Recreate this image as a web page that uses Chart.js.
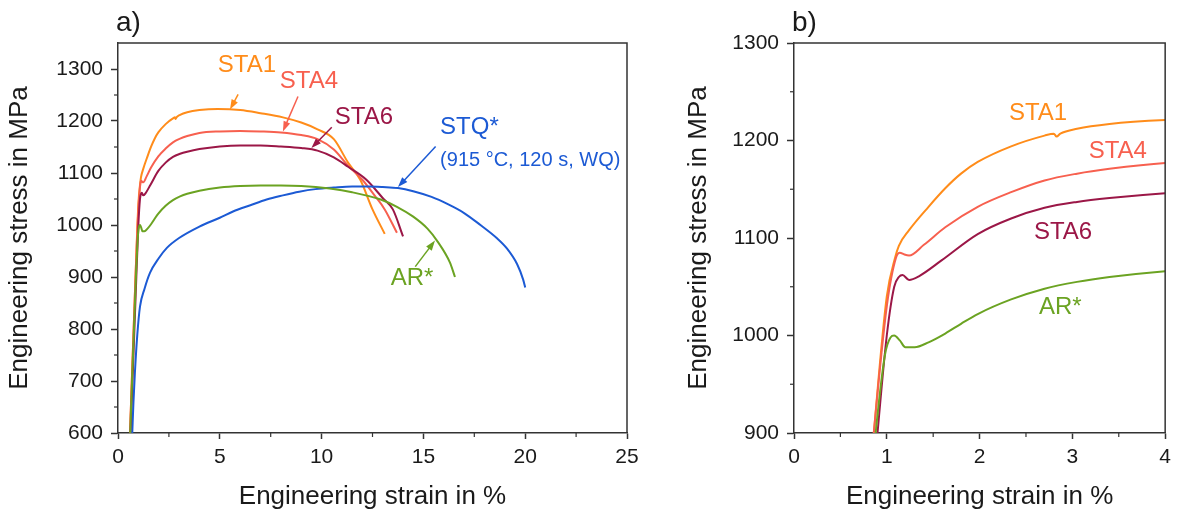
<!DOCTYPE html>
<html>
<head>
<meta charset="utf-8">
<script src="https://cdn.jsdelivr.net/npm/chart.js@4.4.0/dist/chart.umd.min.js"></script>
<style>
  html, body { margin: 0; padding: 0; background: #fff; }
  #wrap { position: relative; width: 1177px; height: 515px; }
  #boxA { position: absolute; left: 0; top: 0; width: 660px; height: 515px; }
  #boxB { position: absolute; left: 660px; top: 0; width: 517px; height: 515px; }
</style>
</head>
<body>
<div id="wrap">
  <div id="boxA"><canvas id="chartA"></canvas></div>
  <div id="boxB"><canvas id="chartB"></canvas></div>
</div>
<script>
// curves: strain in %, stress in MPa
const sta1Strain = [0.59, 0.86, 1.0, 1.09, 1.13, 1.24, 1.45, 1.63, 1.8, 1.98, 2.34, 2.7, 2.8, 2.83, 2.87, 3.05, 3.4, 4.0, 4.9, 6.0, 7.0, 8.1, 9.0, 9.8, 10.6, 11.3, 11.9, 12.5, 13.1]
const sta1Stress = [600, 900, 1040, 1080, 1092, 1108, 1132, 1151, 1166, 1178, 1194, 1205, 1207, 1204, 1207, 1212, 1217, 1221, 1223, 1221, 1215, 1207, 1197, 1184, 1165, 1120, 1087, 1030, 983]

const sta4Strain = [0.59, 0.86, 1.0, 1.1, 1.14, 1.19, 1.24, 1.4, 1.63, 1.98, 2.34, 2.7, 3.05, 3.4, 4.0, 5.0, 6.0, 7.0, 8.0, 9.0, 9.8, 10.6, 11.3, 12.0, 12.6, 13.1, 13.7]
const sta4Stress = [600, 900, 1030, 1080, 1085, 1083, 1082, 1093, 1111, 1132, 1147, 1159, 1166, 1171, 1177, 1180, 1181, 1180, 1178, 1173, 1165, 1145, 1114, 1087, 1057, 1030, 985]

const sta6Strain = [0.62, 0.9, 1.0, 1.08, 1.13, 1.17, 1.24, 1.35, 1.59, 1.98, 2.34, 2.7, 3.05, 3.4, 4.0, 5.0, 6.0, 7.0, 8.0, 9.0, 9.8, 10.6, 11.3, 12.2, 13.0, 13.5, 14.0]
const sta6Stress = [600, 900, 1000, 1050, 1060, 1062, 1057, 1061, 1077, 1104, 1120, 1131, 1137, 1141, 1146, 1151, 1153, 1153, 1151, 1148, 1143, 1130, 1112, 1087, 1052, 1030, 978]

const arStrain = [0.6, 0.88, 0.98, 1.04, 1.08, 1.14, 1.2, 1.3, 1.45, 1.63, 1.8, 1.98, 2.34, 2.7, 3.05, 3.4, 4.0, 5.0, 6.0, 7.0, 8.0, 9.0, 10.4, 11.5, 12.9, 13.7, 14.5, 15.2, 15.7, 16.3, 16.55]
const arStress = [600, 900, 980, 998, 1000, 995, 988, 988, 993, 1002, 1012, 1022, 1037, 1048, 1055, 1060, 1066, 1072, 1075, 1076, 1076, 1075, 1070, 1063, 1049, 1035, 1016, 993, 968, 928, 900]

const stqStrain = [0.7, 0.76, 0.83, 0.95, 1.08, 1.3, 1.57, 2.0, 2.4, 3.0, 4.0, 5.0, 5.65, 6.5, 7.3, 8.1, 8.9, 9.7, 10.6, 11.5, 12.3, 13.0, 13.75, 14.5, 15.4, 16.2, 17.0, 17.8, 18.6, 19.1, 19.6, 19.9, 20.0]
const stqStress = [600, 660, 716, 790, 843, 877, 908, 936, 956, 975, 997, 1014, 1026, 1038, 1049, 1057, 1064, 1069, 1072, 1074, 1074, 1073, 1071, 1065, 1054, 1040, 1023, 1000, 975, 955, 925, 895, 880]

// axis ticks
const xTicksA = [0, 5, 10, 15, 20, 25]
const xMinorA = [2.5, 7.5, 12.5, 17.5, 22.5]
const yTicksA = [600, 700, 800, 900, 1000, 1100, 1200, 1300]
const yMinorA = [650, 750, 850, 950, 1050, 1150, 1250]

const xTicksB = [0, 1, 2, 3, 4]
const xMinorB = [0.5, 1.5, 2.5, 3.5]
const yTicksB = [900, 1000, 1100, 1200, 1300]
const yMinorB = [950, 1050, 1150, 1250]

const FAMILY = '"Liberation Sans", Arial, sans-serif'
Chart.defaults.font.family = FAMILY
Chart.defaults.color = '#1a1a1a'

const COL = {
  sta1: '#ff8c1a',
  sta4: '#f7604f',
  sta6: '#9b1747',
  ar: '#6ba322',
  stq: '#1c5ad4'
}

const toPoints = (xs, ys) => xs.map((x, i) => ({ x: x, y: ys[i] }))

const makeSet = (label, xs, ys, color) => ({
  label: label,
  data: toPoints(xs, ys),
  borderColor: color,
  borderWidth: 2,
  pointRadius: 0,
  fill: false,
  cubicInterpolationMode: 'monotone'
})

// frame, minor ticks, panel tag, text labels and arrows
const makeDecor = (cfg) => ({
  id: 'decor',
  afterDraw (chart) {
    const { ctx, chartArea: a, scales: { x, y } } = chart
    ctx.save()
    ctx.strokeStyle = '#333'
    ctx.lineWidth = 1.5
    ctx.beginPath()
    ctx.moveTo(a.left, a.top)
    ctx.lineTo(a.right, a.top)
    ctx.lineTo(a.right, a.bottom)
    ctx.stroke()

    ctx.lineWidth = 1.2
    cfg.xMinor.forEach(v => {
      const px = x.getPixelForValue(v)
      ctx.beginPath(); ctx.moveTo(px, a.bottom); ctx.lineTo(px, a.bottom + 4); ctx.stroke()
    })
    cfg.yMinor.forEach(v => {
      const py = y.getPixelForValue(v)
      ctx.beginPath(); ctx.moveTo(a.left, py); ctx.lineTo(a.left - 4, py); ctx.stroke()
    })

    ctx.fillStyle = '#1a1a1a'
    ctx.font = '28px ' + FAMILY
    ctx.textAlign = 'left'
    ctx.textBaseline = 'alphabetic'
    ctx.fillText(cfg.tag, a.left - 2, a.top - 12)

    cfg.labels.forEach(l => {
      ctx.fillStyle = l.color
      ctx.font = (l.size || 24) + 'px ' + FAMILY
      ctx.textAlign = l.align || 'center'
      ctx.textBaseline = 'middle'
      ctx.fillText(l.text, x.getPixelForValue(l.x), y.getPixelForValue(l.y))
    })

    cfg.arrows.forEach(ar => {
      const x0 = x.getPixelForValue(ar.from[0]), y0 = y.getPixelForValue(ar.from[1])
      const x1 = x.getPixelForValue(ar.to[0]), y1 = y.getPixelForValue(ar.to[1])
      const ang = Math.atan2(y1 - y0, x1 - x0)
      ctx.strokeStyle = ar.color
      ctx.fillStyle = ar.color
      ctx.lineWidth = 1.5
      ctx.beginPath(); ctx.moveTo(x0, y0); ctx.lineTo(x1 - 6 * Math.cos(ang), y1 - 6 * Math.sin(ang)); ctx.stroke()
      ctx.beginPath()
      ctx.moveTo(x1, y1)
      ctx.lineTo(x1 - 10 * Math.cos(ang) + 3.5 * Math.sin(ang), y1 - 10 * Math.sin(ang) - 3.5 * Math.cos(ang))
      ctx.lineTo(x1 - 10 * Math.cos(ang) - 3.5 * Math.sin(ang), y1 - 10 * Math.sin(ang) + 3.5 * Math.cos(ang))
      ctx.closePath()
      ctx.fill()
    })
    ctx.restore()
  }
})

const axisX = (min, max, ticks, h) => ({
  type: 'linear',
  min: min,
  max: max,
  afterBuildTicks: s => { s.ticks = ticks.map(v => ({ value: v })) },
  afterFit: s => { s.height = h },
  grid: { drawOnChartArea: false, drawTicks: true, tickLength: 6, tickWidth: 1.5, tickColor: '#333' },
  border: { color: '#333', width: 1.5 },
  ticks: { font: { size: 21 }, padding: 6, maxRotation: 0, autoSkip: false, callback: v => String(v) },
  title: { display: true, text: 'Engineering strain in %', font: { size: 26 }, padding: { top: 0, bottom: 3 } }
})

const axisY = (min, max, ticks, w) => ({
  min: min,
  max: max,
  afterBuildTicks: s => { s.ticks = ticks.map(v => ({ value: v })) },
  afterFit: s => { s.width = w },
  grid: { drawOnChartArea: false, drawTicks: true, tickLength: 7, tickWidth: 1.5, tickColor: '#333' },
  border: { color: '#333', width: 1.5 },
  ticks: { font: { size: 21 }, padding: 8, autoSkip: false, callback: v => String(v) },
  title: { display: true, text: 'Engineering stress in MPa', font: { size: 26 }, padding: { top: 4, bottom: 0 } }
})

const common = {
  responsive: true,
  maintainAspectRatio: false,
  animation: false,
  plugins: { legend: { display: false }, tooltip: { enabled: false } }
}

new Chart(document.getElementById('chartA').getContext('2d'), {
  type: 'line',
  data: {
    datasets: [
      makeSet('AR*', arStrain, arStress, COL.ar),
      makeSet('STQ*', stqStrain, stqStress, COL.stq),
      makeSet('STA6', sta6Strain, sta6Stress, COL.sta6),
      makeSet('STA4', sta4Strain, sta4Stress, COL.sta4),
      makeSet('STA1', sta1Strain, sta1Stress, COL.sta1)
    ]
  },
  options: Object.assign({}, common, {
    layout: { padding: { top: 43, right: 33, bottom: 0, left: 0 } },
    scales: {
      x: axisX(0, 25, xTicksA, 82),
      y: axisY(600, 1350, yTicksA, 118)
    }
  }),
  plugins: [makeDecor({
    tag: 'a)',
    xMinor: xMinorA,
    yMinor: yMinorA,
    labels: [
      { text: 'STA1', x: 6.33, y: 1307, color: COL.sta1 },
      { text: 'STA4', x: 9.38, y: 1276, color: COL.sta4 },
      { text: 'STA6', x: 12.08, y: 1207, color: COL.sta6 },
      { text: 'STQ*', x: 15.82, y: 1188, color: COL.stq, align: 'left' },
      { text: '(915 °C, 120 s, WQ)', x: 15.82, y: 1124, color: COL.stq, align: 'left', size: 20 },
      { text: 'AR*', x: 14.44, y: 897, color: COL.ar }
    ],
    arrows: [
      { from: [5.9, 1251], to: [5.5, 1222], color: COL.sta1 },
      { from: [8.84, 1247], to: [8.1, 1180], color: COL.sta4 },
      { from: [10.5, 1188], to: [9.5, 1148], color: COL.sta6 },
      { from: [15.6, 1151], to: [13.75, 1073], color: COL.stq },
      { from: [14.6, 920], to: [15.57, 970], color: COL.ar }
    ]
  })]
})

new Chart(document.getElementById('chartB').getContext('2d'), {
  type: 'line',
  data: {
    datasets: [
      makeSet('AR*', arStrain, arStress, COL.ar),
      makeSet('STA6', sta6Strain, sta6Stress, COL.sta6),
      makeSet('STA4', sta4Strain, sta4Stress, COL.sta4),
      makeSet('STA1', sta1Strain, sta1Stress, COL.sta1)
    ]
  },
  options: Object.assign({}, common, {
    layout: { padding: { top: 43, right: 8, bottom: 0, left: 19 } },
    scales: {
      x: axisX(0, 4, xTicksB, 82),
      y: axisY(900, 1300, yTicksB, 115)
    }
  }),
  plugins: [makeDecor({
    tag: 'b)',
    xMinor: xMinorB,
    yMinor: yMinorB,
    labels: [
      { text: 'STA1', x: 2.63, y: 1228, color: COL.sta1 },
      { text: 'STA4', x: 3.49, y: 1189, color: COL.sta4 },
      { text: 'STA6', x: 2.9, y: 1106, color: COL.sta6 },
      { text: 'AR*', x: 2.87, y: 1029, color: COL.ar }
    ],
    arrows: []
  })]
})
</script>
</body>
</html>
